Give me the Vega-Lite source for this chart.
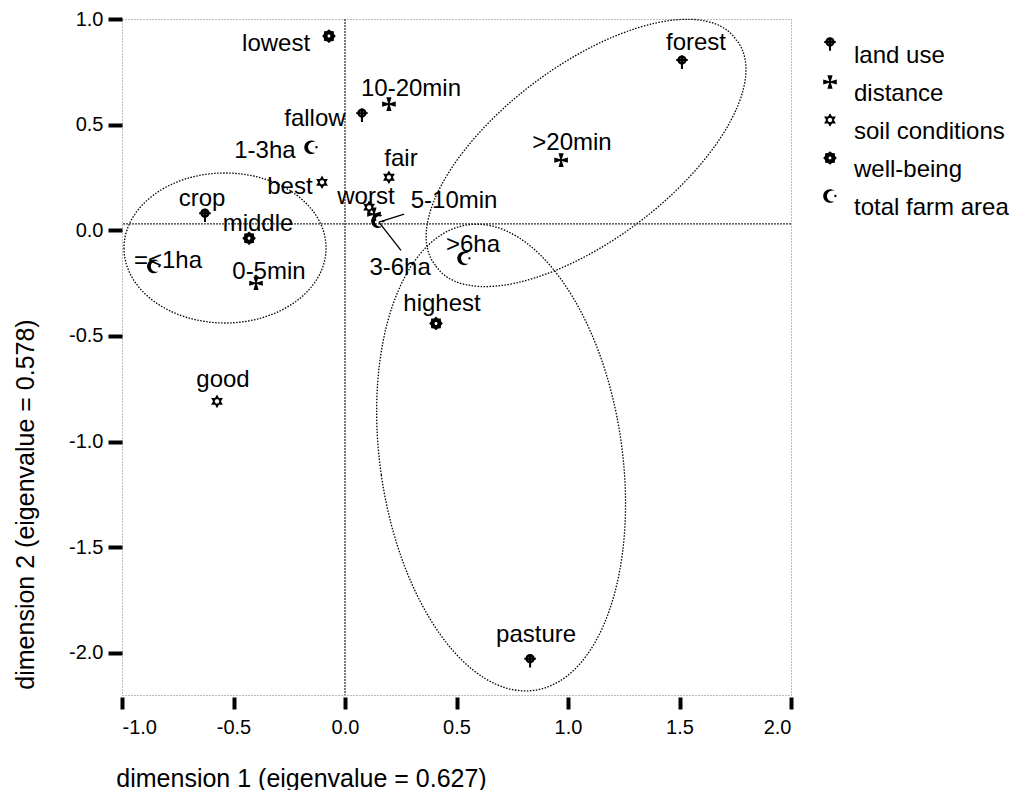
{
  "$schema": "https://vega.github.io/schema/vega-lite/v6.json",
  "autosize": "none",
  "width": 669,
  "height": 676,
  "padding": {"left": 122, "top": 19, "right": 229, "bottom": 95},
  "background": "white",
  "config": {
    "font": "Liberation Sans",
    "view": {"stroke": "#777777", "strokeDash": [1, 2], "strokeWidth": 1},
    "axisX": {
      "domain": false,
      "grid": false,
      "tickColor": "black",
      "tickSize": 12,
      "tickWidth": 4,
      "offset": 2,
      "labelFontSize": 20,
      "labelColor": "black",
      "labelPadding": 8,
      "labelExpr": "replace(datum.label, '\u2212', '-')",
      "titleFontSize": 25,
      "titleFontWeight": "normal",
      "titleColor": "black",
      "titleX": 179,
      "titleY": 81,
      "titleBaseline": "middle",
      "titleAlign": "center"
    },
    "axisY": {
      "domain": false,
      "grid": false,
      "tickColor": "black",
      "tickSize": 14,
      "tickWidth": 4,
      "labelFontSize": 20,
      "labelColor": "black",
      "labelPadding": 5,
      "labelExpr": "replace(datum.label, '\u2212', '-')",
      "titleFontSize": 25,
      "titleFontWeight": "normal",
      "titleColor": "black",
      "titleX": -97,
      "titleY": 485,
      "titleAngle": -90,
      "titleBaseline": "middle",
      "titleAlign": "center"
    }
  },
  "datasets": {
    "points": [
      {"label": "lowest", "variable": "well-being", "x": -0.072, "y": 0.919, "lx": -0.309, "ly": 0.882},
      {"label": "10-20min", "variable": "distance", "x": 0.197, "y": 0.597, "lx": 0.296, "ly": 0.668},
      {"label": "fallow", "variable": "land use", "x": 0.076, "y": 0.545, "lx": -0.135, "ly": 0.526},
      {"label": "1-3ha", "variable": "total farm area", "x": -0.152, "y": 0.393, "lx": -0.359, "ly": 0.374},
      {"label": "fair", "variable": "soil conditions", "x": 0.197, "y": 0.251, "lx": 0.251, "ly": 0.336},
      {"label": "best", "variable": "soil conditions", "x": -0.103, "y": 0.227, "lx": -0.247, "ly": 0.204},
      {"label": "worst", "variable": "soil conditions", "x": 0.108, "y": 0.109, "lx": 0.094, "ly": 0.156},
      {"label": "5-10min", "variable": "distance", "x": 0.130, "y": 0.076, "lx": 0.489, "ly": 0.137},
      {"label": "3-6ha", "variable": "total farm area", "x": 0.148, "y": 0.043, "lx": 0.247, "ly": -0.180},
      {"label": "crop", "variable": "land use", "x": -0.628, "y": 0.071, "lx": -0.641, "ly": 0.147},
      {"label": "middle", "variable": "well-being", "x": -0.430, "y": -0.038, "lx": -0.390, "ly": 0.028},
      {"label": "=<1ha", "variable": "total farm area", "x": -0.857, "y": -0.171, "lx": -0.794, "ly": -0.147},
      {"label": "0-5min", "variable": "distance", "x": -0.399, "y": -0.251, "lx": -0.341, "ly": -0.199},
      {"label": ">6ha", "variable": "total farm area", "x": 0.534, "y": -0.133, "lx": 0.574, "ly": -0.071},
      {"label": "highest", "variable": "well-being", "x": 0.408, "y": -0.441, "lx": 0.435, "ly": -0.351},
      {"label": "good", "variable": "soil conditions", "x": -0.574, "y": -0.810, "lx": -0.547, "ly": -0.711},
      {"label": ">20min", "variable": "distance", "x": 0.969, "y": 0.332, "lx": 1.018, "ly": 0.412},
      {"label": "forest", "variable": "land use", "x": 1.511, "y": 0.796, "lx": 1.574, "ly": 0.886},
      {"label": "pasture", "variable": "land use", "x": 0.830, "y": -2.038, "lx": 0.857, "ly": -1.915}
    ],
    "ellipses": [
      {"group": "A", "cx": -0.538, "cy": -0.084},
      {"group": "B", "cx": 1.081, "cy": 0.366},
      {"group": "C", "cx": 0.700, "cy": -1.076}
    ],
    "leaders": [
      {"x": 0.265, "y": 0.076, "x2": 0.152, "y2": 0.038},
      {"x": 0.152, "y": 0.038, "x2": 0.251, "y2": -0.095}
    ],
    "reflines": [{"x0": 0, "y0": 0.03}]
  },
  "layer": [
    {
      "data": {"name": "ellipses"},
      "transform": [{"filter": "datum.group == 'A'"}],
      "mark": {"type": "point", "shape": "M -101 0 A 101 75 0 1 0 101 0 A 101 75 0 1 0 -101 0 Z", "size": 4, "filled": false, "stroke": "black", "strokeWidth": 1.3, "strokeDash": [1.5, 1.5], "opacity": 1},
      "encoding": {
        "x": {"field": "cx", "type": "quantitative", "title": "dimension 1 (eigenvalue = 0.627)", "scale": {"domain": [-1, 2], "nice": false, "zero": false}, "axis": {"values": [-1, -0.5, 0, 0.5, 1, 1.5, 2], "format": ".1f"}},
        "y": {"field": "cy", "type": "quantitative", "title": "dimension 2 (eigenvalue = 0.578)", "scale": {"domain": [-2.2, 1.0], "nice": false, "zero": false}, "axis": {"values": [-2, -1.5, -1, -0.5, 0, 0.5, 1], "format": ".1f"}}
      }
    },
    {
      "data": {"name": "ellipses"},
      "transform": [{"filter": "datum.group == 'B'"}],
      "mark": {"type": "point", "shape": "M -150.1 113.1 A 188 85 -37 1 0 150.1 -113.1 A 188 85 -37 1 0 -150.1 113.1 Z", "size": 4, "filled": false, "stroke": "black", "strokeWidth": 1.3, "strokeDash": [1.5, 1.5], "opacity": 1},
      "encoding": {
        "x": {"field": "cx", "type": "quantitative", "title": "dimension 1 (eigenvalue = 0.627)", "axis": {"values": [-1, -0.5, 0, 0.5, 1, 1.5, 2], "format": ".1f"}},
        "y": {"field": "cy", "type": "quantitative", "title": "dimension 2 (eigenvalue = 0.578)", "axis": {"values": [-2, -1.5, -1, -0.5, 0, 0.5, 1], "format": ".1f"}}
      }
    },
    {
      "data": {"name": "ellipses"},
      "transform": [{"filter": "datum.group == 'C'"}],
      "mark": {"type": "point", "shape": "M -119.8 17.3 A 121 235 -8.2 1 0 119.8 -17.3 A 121 235 -8.2 1 0 -119.8 17.3 Z", "size": 4, "filled": false, "stroke": "black", "strokeWidth": 1.3, "strokeDash": [1.5, 1.5], "opacity": 1},
      "encoding": {
        "x": {"field": "cx", "type": "quantitative", "title": "dimension 1 (eigenvalue = 0.627)", "axis": {"values": [-1, -0.5, 0, 0.5, 1, 1.5, 2], "format": ".1f"}},
        "y": {"field": "cy", "type": "quantitative", "title": "dimension 2 (eigenvalue = 0.578)", "axis": {"values": [-2, -1.5, -1, -0.5, 0, 0.5, 1], "format": ".1f"}}
      }
    },
    {
      "data": {"name": "reflines"},
      "mark": {"type": "rule", "color": "#333333", "strokeWidth": 1.3, "strokeDash": [2, 1]},
      "encoding": {
        "x": {"field": "x0", "type": "quantitative", "title": "dimension 1 (eigenvalue = 0.627)", "axis": {"values": [-1, -0.5, 0, 0.5, 1, 1.5, 2], "format": ".1f"}}
      }
    },
    {
      "data": {"name": "reflines"},
      "mark": {"type": "rule", "color": "#333333", "strokeWidth": 1.3, "strokeDash": [2, 1]},
      "encoding": {
        "y": {"field": "y0", "type": "quantitative", "title": "dimension 2 (eigenvalue = 0.578)", "axis": {"values": [-2, -1.5, -1, -0.5, 0, 0.5, 1], "format": ".1f"}}
      }
    },
    {
      "data": {"name": "leaders"},
      "mark": {"type": "rule", "color": "black", "strokeWidth": 1.3},
      "encoding": {
        "x": {"field": "x", "type": "quantitative", "title": "dimension 1 (eigenvalue = 0.627)", "axis": {"values": [-1, -0.5, 0, 0.5, 1, 1.5, 2], "format": ".1f"}},
        "y": {"field": "y", "type": "quantitative", "title": "dimension 2 (eigenvalue = 0.578)", "axis": {"values": [-2, -1.5, -1, -0.5, 0, 0.5, 1], "format": ".1f"}},
        "x2": {"field": "x2"},
        "y2": {"field": "y2"}
      }
    },
    {
      "data": {"name": "points"},
      "mark": {"type": "point", "filled": true, "color": "black", "opacity": 1, "size": 185, "strokeWidth": 0},
      "encoding": {
        "x": {"field": "x", "type": "quantitative", "title": "dimension 1 (eigenvalue = 0.627)", "axis": {"values": [-1, -0.5, 0, 0.5, 1, 1.5, 2], "format": ".1f"}},
        "y": {"field": "y", "type": "quantitative", "title": "dimension 2 (eigenvalue = 0.578)", "axis": {"values": [-2, -1.5, -1, -0.5, 0, 0.5, 1], "format": ".1f"}},
        "shape": {
          "field": "variable",
          "type": "nominal",
          "scale": {
            "domain": ["land use", "distance", "soil conditions", "well-being", "total farm area"],
            "range": [
              "M -0.68 -0.3 A 0.68 0.68 0 1 1 0.68 -0.3 A 0.68 0.68 0 1 1 -0.68 -0.3 Z M -0.3 -0.3 A 0.3 0.3 0 1 0 0.3 -0.3 A 0.3 0.3 0 1 0 -0.3 -0.3 Z M -0.15 -1 L 0.15 -1 L 0.15 1 L -0.15 1 Z M -0.85 -0.44 L 0.85 -0.44 L 0.85 -0.16 L -0.85 -0.16 Z",
              "M -0.38 -1 L 0.38 -1 L 0.12 -0.12 L 1 -0.38 L 1 0.38 L 0.12 0.12 L 0.38 1 L -0.38 1 L -0.12 0.12 L -1 0.38 L -1 -0.38 L -0.12 -0.12 Z",
              "M 0 -1 L 0.289 -0.5 L 0.866 -0.5 L 0.577 0 L 0.866 0.5 L 0.289 0.5 L 0 1 L -0.289 0.5 L -0.866 0.5 L -0.577 0 L -0.866 -0.5 L -0.289 -0.5 Z M 0.175 -0.303 L -0.175 -0.303 L -0.35 0 L -0.175 0.303 L 0.175 0.303 L 0.35 0 Z",
              "M 1 0 L 0.739 0.306 L 0.707 0.707 L 0.306 0.739 L 0 1 L -0.306 0.739 L -0.707 0.707 L -0.739 0.306 L -1 0 L -0.739 -0.306 L -0.707 -0.707 L -0.306 -0.739 L 0 -1 L 0.306 -0.739 L 0.707 -0.707 L 0.739 -0.306 Z M -0.22 0 A 0.22 0.22 0 1 0 0.22 0 A 0.22 0.22 0 1 0 -0.22 0 Z",
              "M 0.689 -0.725 A 1 1 0 1 0 0.689 0.725 A 0.8 0.8 0 1 1 0.689 -0.725 Z M 0.62 0 A 0.17 0.17 0 1 1 0.96 0 A 0.17 0.17 0 1 1 0.62 0 Z"
            ]
          },
          "legend": {
            "title": null,
            "orient": "none",
            "legendX": 696,
            "legendY": 13,
            "padding": 0,
            "labelFontSize": 24,
            "labelColor": "black",
            "labelBaseline": "top",
            "labelOffset": 12,
            "labelLimit": 400,
            "symbolSize": 185,
            "symbolFillColor": "black",
            "symbolStrokeWidth": 0,
            "symbolOpacity": 1,
            "rowPadding": 2
          }
        }
      }
    },
    {
      "data": {"name": "points"},
      "mark": {"type": "text", "fontSize": 24, "font": "Liberation Sans", "color": "black", "baseline": "middle", "align": "center"},
      "encoding": {
        "x": {"field": "lx", "type": "quantitative", "title": "dimension 1 (eigenvalue = 0.627)", "axis": {"values": [-1, -0.5, 0, 0.5, 1, 1.5, 2], "format": ".1f"}},
        "y": {"field": "ly", "type": "quantitative", "title": "dimension 2 (eigenvalue = 0.578)", "axis": {"values": [-2, -1.5, -1, -0.5, 0, 0.5, 1], "format": ".1f"}},
        "text": {"field": "label", "type": "nominal"}
      }
    }
  ]
}
